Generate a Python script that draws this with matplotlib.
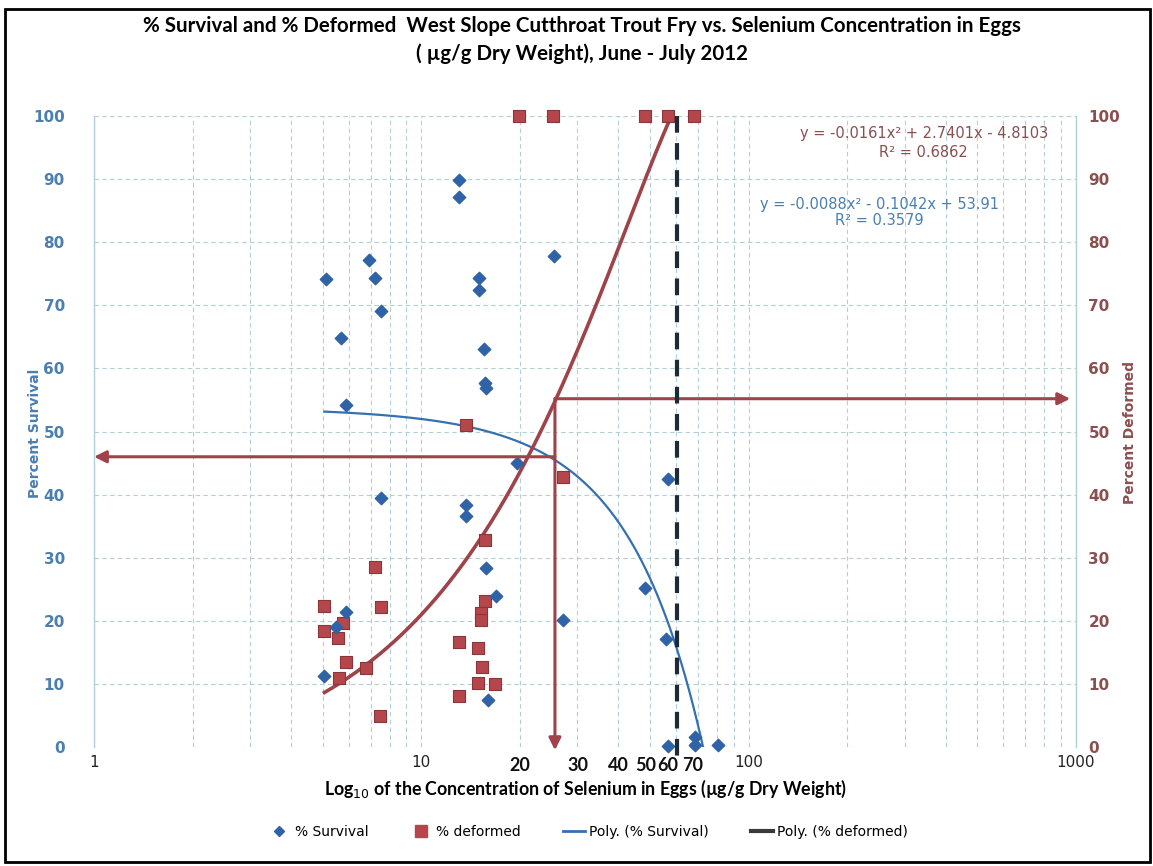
import matplotlib
matplotlib.use("Agg")
import matplotlib.pyplot as plt
import matplotlib.patches as mpatches
from matplotlib.lines import Line2D
from matplotlib.ticker import LogLocator, NullFormatter, FixedLocator
import numpy as np

# % survival (blue diamonds): selenium in eggs (ug/g dw) vs percent
surv_x = [5.06, 5.1, 5.7, 5.87, 5.9, 5.5, 6.94, 7.24, 7.55, 7.55, 13.06, 13.06,
          13.7, 13.7, 15.0, 15.0, 15.5, 15.6, 15.8, 15.8, 16.0, 16.9, 19.6, 25.4,
          27.1, 48.2, 56.6, 56.0, 56.6, 68.5, 68.7, 80.4]
surv_y = [11.2, 74.2, 64.8, 54.2, 21.4, 19.0, 77.2, 74.3, 69.1, 39.5, 89.9, 87.2,
          38.4, 36.6, 74.3, 72.4, 63.1, 57.7, 56.9, 28.4, 7.4, 23.9, 45.0, 77.8,
          20.1, 25.2, 42.5, 17.1, 0.2, 1.6, 0.3, 0.3]

# % deformed (red squares)
def_x = [5.06, 5.06, 5.58, 5.77, 5.9, 5.6, 6.8, 7.24, 7.55, 7.5, 13.0, 13.0,
         15.6, 15.6, 15.2, 15.2, 14.9, 15.3, 14.9, 16.8, 27.0, 13.7,
         19.9, 25.3, 48.2, 56.6, 68.2]
def_y = [22.3, 18.4, 17.3, 19.7, 13.5, 10.9, 12.5, 28.5, 22.2, 4.9, 16.6, 8.1,
         32.8, 23.1, 21.2, 20.1, 15.7, 12.7, 10.1, 10.0, 42.8, 51.0,
         100, 100, 100, 100, 100]

# Excel polynomial trendline coefficients (a, b, c)
surv_poly = [-0.0088, -0.1042, 53.91]
def_poly = [-0.0161, 2.7401, -4.8103]

x_major = [1, 10, 100, 1000]
extra_labels = ["20", "30", "40", "50", "60", "70"]
extra_pos = [20, 30, 40, 48.5, 56.5, 67.5]

blue = "#2f62a6"
blue_line = "#3570b0"
red = "#b5474c"
red_line = "#9e434a"
grid_c = "#b3cfd6"
cond = ["Liberation Sans Narrow", "Lato", "DejaVu Sans"]

fig = plt.figure(figsize=(11.53, 8.66), dpi=100)
ax = fig.add_axes([0.0815, 0.1374, 0.8517, 0.7286])
ax.set_xscale("log")
ax.set_xlim(1, 1000)
ax.set_ylim(0, 100)

ax.xaxis.set_major_locator(FixedLocator(x_major))
ax.xaxis.set_minor_locator(LogLocator(base=10, subs=np.arange(2, 10)))
ax.xaxis.set_minor_formatter(NullFormatter())
ax.set_xticklabels([str(v) for v in x_major], fontsize=11, color="#222222")
ax.set_yticks(range(0, 101, 10))
ax.tick_params(axis="both", which="both", length=0)
ax.tick_params(axis="y", labelcolor="#4a7fb2", labelsize=11, pad=21)
ax.tick_params(axis="x", pad=6)
for lab in ax.get_yticklabels():
    lab.set_fontweight("bold")

ax.grid(True, which="both", axis="x", color=grid_c, ls=(0, (4, 3)), lw=0.8)
ax.grid(True, which="major", axis="y", color=grid_c, ls=(0, (4, 3)), lw=0.8)
for s in ["top", "bottom"]:
    ax.spines[s].set_visible(False)
for s in ["left", "right"]:
    ax.spines[s].set_color(grid_c)
    ax.spines[s].set_linewidth(1.0)

ax2 = ax.twinx()
ax2.set_ylim(0, 100)
ax2.set_yticks(range(0, 101, 10))
ax2.tick_params(axis="y", length=0, labelcolor="#8b4f4f", labelsize=11, pad=9)
for lab in ax2.get_yticklabels():
    lab.set_fontweight("bold")
for s in ax2.spines.values():
    s.set_visible(False)

# trendlines
xs = np.logspace(np.log10(min(surv_x)), np.log10(max(surv_x)), 400)
ys_surv = np.polyval(surv_poly, xs)
ys_def = np.polyval(def_poly, xs)
ax.plot(xs, ys_surv, color=blue_line, lw=1.6, zorder=3)
ax.plot(xs, ys_def, color=red_line, lw=2.6, zorder=3)

ax.scatter(surv_x, surv_y, marker="D", s=40, color=blue, zorder=5, clip_on=False)
ax.scatter(def_x, def_y, marker="s", s=85, color=red, edgecolor="#8a3538",
           lw=0.8, zorder=4, clip_on=False)

# reference arrows
xc = 25.6
arrow = dict(arrowstyle="-|>", color=red_line, lw=2.2, mutation_scale=18,
             shrinkA=0, shrinkB=0)
ax.annotate("", xy=(1.0, 46), xytext=(xc, 46), arrowprops=arrow,
            annotation_clip=False, zorder=6)
ax.annotate("", xy=(xc, -0.5), xytext=(xc, 55.2), arrowprops=arrow,
            annotation_clip=False, zorder=6)
ax.annotate("", xy=(960, 55.2), xytext=(xc, 55.2), arrowprops=arrow,
            annotation_clip=False, zorder=6)
ax.plot([60.5, 60.5], [100, -2], color="#1e2a36", lw=3, ls=(0, (4, 2.5)),
        clip_on=False, zorder=6)

# extra bold x labels
for lbl, p in zip(extra_labels, extra_pos):
    ax.text(p, -1.6, lbl, ha="center", va="top", fontsize=13, fontweight="bold",
            color="#111111", family=cond)

# equations
ax.text(0.845, 0.972, "y = -0.0161x² + 2.7401x - 4.8103", transform=ax.transAxes,
        ha="center", va="center", fontsize=10.5, color="#8b4f4f")
ax.text(0.845, 0.942, "R² = 0.6862", transform=ax.transAxes,
        ha="center", va="center", fontsize=10.5, color="#8b4f4f")
ax.text(0.80, 0.860, "y = -0.0088x² - 0.1042x + 53.91", transform=ax.transAxes,
        ha="center", va="center", fontsize=10.5, color="#4a7fb2")
ax.text(0.80, 0.835, "R² = 0.3579", transform=ax.transAxes,
        ha="center", va="center", fontsize=10.5, color="#4a7fb2")

fig.text(0.505, 0.970, "% Survival and % Deformed  West Slope Cutthroat Trout Fry vs. Selenium Concentration in Eggs",
         ha="center", va="center", fontsize=14.8, fontweight="bold", family=cond)
fig.text(0.505, 0.938, "( µg/g Dry Weight), June - July 2012",
         ha="center", va="center", fontsize=14.8, fontweight="bold", family=cond)
fig.text(0.508, 0.089, "Log$_{10}$ of the Concentration of Selenium in Eggs (µg/g Dry Weight)",
         ha="center", va="center", fontsize=12.8, fontweight="bold", family=cond)
fig.text(0.030, 0.5, "Percent Survival", rotation=90, ha="center", va="center",
         fontsize=10, fontweight="bold", color="#4a7fb2")
fig.text(0.980, 0.5, "Percent Deformed", rotation=90, ha="center", va="center",
         fontsize=10, fontweight="bold", color="#8b4f4f")

handles = [
    Line2D([], [], marker="D", color=blue, ls="none", markersize=5),
    Line2D([], [], marker="s", color=red, ls="none", markersize=8),
    Line2D([], [], color=blue_line, lw=2),
    Line2D([], [], color="#3a3a3a", lw=3),
]
fig.legend(handles, ["% Survival", "% deformed", "Poly. (% Survival)", "Poly. (% deformed)"],
           loc="center", bbox_to_anchor=(0.51, 0.039), ncol=4, frameon=False,
           fontsize=10, handlelength=1.6, columnspacing=3.0, handletextpad=0.3)

fig.add_artist(mpatches.Rectangle((0.004, 0.005), 0.993, 0.985, transform=fig.transFigure,
                                  fill=False, lw=2, color="black"))

fig.savefig("out.png", dpi=100)
